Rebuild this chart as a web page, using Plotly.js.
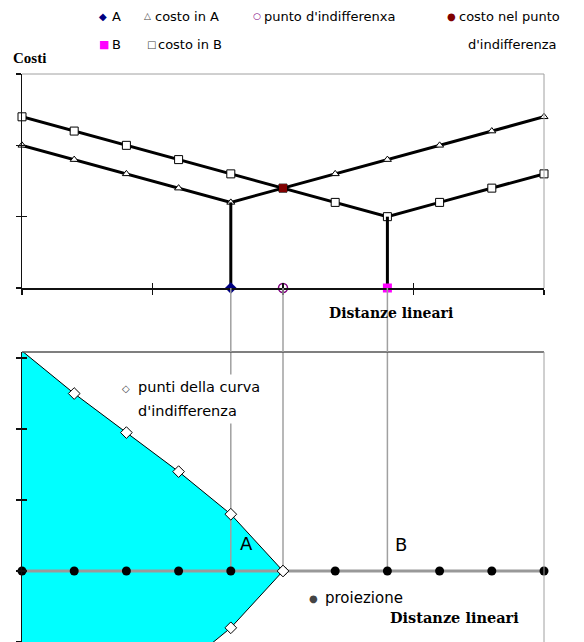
<!DOCTYPE html>
<html>
<head>
<meta charset="utf-8">
<script src="https://cdn.plot.ly/plotly-3.0.1.min.js"></script>
<style>
  html, body { margin: 0; padding: 0; background: #fff; overflow: hidden; }
  #chart { width: 584px; height: 642px; }
</style>
</head>
<body>
<div id="chart"></div>
<script>
// Linear distances along the route (0 = left end, 10 = right end)
const distances = [0, 1, 2, 3, 4, 5, 6, 7, 8, 9, 10];
// Total cost when the facility is located in A or in B
const costInA = [2.0, 1.8, 1.6, 1.4, 1.2, 1.4, 1.6, 1.8, 2.0, 2.2, 2.4];
const costInB = [2.4, 2.2, 2.0, 1.8, 1.6, 1.4, 1.2, 1.0, 1.2, 1.4, 1.6];
// Positions of A, B and the indifference point, and the cost there
const posA = 4;
const posB = 7;
const posIndiff = 5;
const costIndiff = 1.4;
// Points of the indifference curve (upper branch; the lower one is its mirror)
const curveX = [0, 1, 2, 3, 4, 5];
const curveY = [3.1, 2.5, 1.95, 1.4, 0.8, 0];
// Tick positions
const xTicks = [0, 2.5, 5, 7.5, 10];
const yTicksTop = [0, 1, 2, 3];
const yTicksBottom = [-1, 0, 1, 2, 3];

const W = 584, H = 642;
const px = v => v / W;
const py = v => 1 - v / H;

const xDom = [px(22), px(544)];
const topDom = [py(288), py(74)];
const botDom = [0, py(352)];
const topRange = [0, 3];
const botRange = [-1.0, 3.085];

const SANS = 'DejaVu Sans, Arial, sans-serif';
const SERIF = 'Liberation Serif, Times New Roman, serif';
const SERIF_B = 'DejaVu Serif, Liberation Serif, serif';

// Lower branch of the curve, mirrored, to close the filled region
const polyX = curveX.concat(curveX.slice(0, -1).reverse());
const polyY = curveY.concat(curveY.slice(0, -1).reverse().map(v => -v));

const traces = [];

// ---------- upper chart: costs ----------
traces.push({
  x: distances, y: costInA, xaxis: 'x', yaxis: 'y', mode: 'lines+markers',
  line: { color: '#000', width: 3 },
  marker: { symbol: 'triangle-up', size: 7, color: '#fff', line: { color: '#000', width: 1 } },
  cliponaxis: false, hoverinfo: 'skip'
});
traces.push({
  x: distances, y: costInB, xaxis: 'x', yaxis: 'y', mode: 'lines+markers',
  line: { color: '#000', width: 3 },
  marker: { symbol: 'square', size: 8, color: '#fff', line: { color: '#000', width: 1 } },
  cliponaxis: false, hoverinfo: 'skip'
});
// drop lines from the minimum cost down to A and B
traces.push({
  x: [posA, posA], y: [0, costInA[distances.indexOf(posA)]], xaxis: 'x', yaxis: 'y',
  mode: 'lines', line: { color: '#000', width: 3 }, hoverinfo: 'skip'
});
traces.push({
  x: [posB, posB], y: [0, costInB[distances.indexOf(posB)]], xaxis: 'x', yaxis: 'y',
  mode: 'lines', line: { color: '#000', width: 3 }, hoverinfo: 'skip'
});
// A, B, indifference point and its cost
traces.push({
  x: [posA], y: [0], xaxis: 'x', yaxis: 'y', mode: 'markers', cliponaxis: false,
  marker: { symbol: 'diamond', size: 9, color: '#000080' }, hoverinfo: 'skip'
});
traces.push({
  x: [posB], y: [0], xaxis: 'x', yaxis: 'y', mode: 'markers', cliponaxis: false,
  marker: { symbol: 'square', size: 9, color: '#ff00ff' }, hoverinfo: 'skip'
});
traces.push({
  x: [posIndiff], y: [0], xaxis: 'x', yaxis: 'y', mode: 'markers', cliponaxis: false,
  marker: { symbol: 'circle-open', size: 9, color: '#800080', line: { width: 1.5 } }, hoverinfo: 'skip'
});
traces.push({
  x: [posIndiff], y: [costIndiff], xaxis: 'x', yaxis: 'y', mode: 'markers', cliponaxis: false,
  marker: { symbol: 'square', size: 8, color: '#800000' }, hoverinfo: 'skip'
});

// ---------- lower chart: indifference curve ----------
traces.push({
  x: polyX, y: polyY, xaxis: 'x2', yaxis: 'y2', mode: 'lines', fill: 'toself',
  fillcolor: '#00ffff', line: { color: '#000', width: 1 }, hoverinfo: 'skip'
});
// vertical projections of A, the indifference point and B
[posA, posIndiff, posB].forEach(p => {
  traces.push({
    x: [p, p], y: [0, botRange[1]], xaxis: 'x2', yaxis: 'y2', mode: 'lines',
    line: { color: '#a0a0a0', width: 1.5 }, hoverinfo: 'skip'
  });
});
// distance axis drawn over the fill
traces.push({
  x: [distances[0], distances[distances.length - 1]], y: [0, 0], xaxis: 'x2', yaxis: 'y2',
  mode: 'lines', line: { color: '#999', width: 3 }, hoverinfo: 'skip'
});
// projections of the distance points
traces.push({
  x: distances, y: distances.map(() => 0), xaxis: 'x2', yaxis: 'y2', mode: 'markers',
  cliponaxis: false, marker: { symbol: 'circle', size: 9, color: '#000' }, hoverinfo: 'skip'
});
// curve points (both branches)
traces.push({
  x: polyX, y: polyY, xaxis: 'x2', yaxis: 'y2', mode: 'markers', cliponaxis: false,
  marker: { symbol: 'diamond', size: 9, color: '#fff', line: { color: '#000', width: 1 } },
  hoverinfo: 'skip'
});

// empty traces so that the crossing-tick overlay axes are drawn
traces.push({ x: [null], y: [null], xaxis: 'x3', yaxis: 'y', hoverinfo: 'skip' });
traces.push({ x: [null], y: [null], xaxis: 'x', yaxis: 'y3', hoverinfo: 'skip' });
traces.push({ x: [null], y: [null], xaxis: 'x2', yaxis: 'y4', hoverinfo: 'skip' });

const baseAxis = { showgrid: false, zeroline: false, showticklabels: false, fixedrange: true };

const shapes = [
  // upper chart frame (top, right)
  { type: 'line', xref: 'paper', yref: 'paper', x0: xDom[0], x1: xDom[1], y0: topDom[1], y1: topDom[1], line: { color: '#a0a0a0', width: 1 } },
  { type: 'line', xref: 'paper', yref: 'paper', x0: xDom[1], x1: xDom[1], y0: topDom[0], y1: topDom[1], line: { color: '#a0a0a0', width: 1 } },
  // lower chart frame (top, right)
  { type: 'line', xref: 'paper', yref: 'paper', x0: xDom[0], x1: xDom[1], y0: botDom[1], y1: botDom[1], line: { color: '#555', width: 1.5 } },
  { type: 'line', xref: 'paper', yref: 'paper', x0: xDom[1], x1: xDom[1], y0: botDom[0], y1: botDom[1], line: { color: '#a0a0a0', width: 1 } }
];
// projection lines between the two charts
[posA, posIndiff, posB].forEach(p => {
  shapes.push({
    type: 'line', xref: 'x', yref: 'paper', x0: p, x1: p, y0: topDom[0], y1: botDom[1],
    line: { color: '#a0a0a0', width: 1.5 }, layer: 'above'
  });
});

function label(text, x, y, opts) {
  return Object.assign({
    text: text, xref: 'paper', yref: 'paper', x: px(x), y: py(y),
    xanchor: 'left', yanchor: 'middle', showarrow: false,
    font: { family: SANS, size: 13, color: '#000' }
  }, opts || {});
}

const annotations = [
  // legend
  label('<span style="color:#000080">◆</span>', 97, 16, { font: { family: SANS, size: 10 } }),
  label('A', 110, 16),
  label('△', 142, 16, { font: { family: SANS, size: 9 } }),
  label('costo in A', 153, 16),
  label('<span style="color:#800080">○</span>', 251, 16, { font: { family: SANS, size: 9 } }),
  label("punto d'indifferenxa", 262, 16),
  label('<span style="color:#800000">●</span>', 445, 16, { font: { family: SANS, size: 10 } }),
  label('costo nel punto', 457, 16),
  label("d'indifferenza", 466, 45),
  label('<span style="color:#ff00ff">■</span>', 97, 45, { font: { family: SANS, size: 11 } }),
  label('B', 110, 45),
  label('□', 145, 45, { font: { family: SANS, size: 10 } }),
  label('costo in B', 156, 45),
  // axis titles
  label('<b>Costi</b>', 11, 58, { font: { family: SERIF, size: 15, color: '#000' } }),
  label('<b>Distanze lineari</b>', 391, 313, { xanchor: 'center', font: { family: SERIF_B, size: 14, color: '#000' } }),
  label('<b>Distanze lineari</b>', 454, 617, { xanchor: 'center', font: { family: SERIF_B, size: 14.5, color: '#000' } }),
  // lower chart labels
  label('◇', 120, 388, { font: { family: SANS, size: 10 } }),
  label('punti della curva', 133, 387, { bgcolor: '#fff', borderpad: 4, font: { family: SANS, size: 14.5, color: '#000' } }),
  label("d'indifferenza", 133, 411, { bgcolor: '#fff', borderpad: 4, font: { family: SANS, size: 14.5, color: '#000' } }),
  label('A', 246, 543, { xanchor: 'center', font: { family: SANS, size: 18, color: '#000' } }),
  label('B', 401, 544, { xanchor: 'center', font: { family: SANS, size: 18, color: '#000' } }),
  label('●', 307, 598, { font: { family: SANS, size: 10 } }),
  label('proiezione', 323, 598, { font: { family: SANS, size: 15, color: '#000' } })
];

const layout = {
  width: W, height: H,
  margin: { l: 0, r: 0, t: 0, b: 0 },
  paper_bgcolor: '#fff', plot_bgcolor: 'rgba(0,0,0,0)',
  showlegend: false,
  xaxis: Object.assign({}, baseAxis, {
    domain: xDom, range: [0, 10], anchor: 'y', showline: true, linecolor: '#111', linewidth: 1.5,
    tickvals: xTicks, ticks: 'outside', ticklen: 5, tickwidth: 1.2, tickcolor: '#111'
  }),
  xaxis3: Object.assign({}, baseAxis, {
    overlaying: 'x', anchor: 'y', side: 'bottom', range: [0, 10], showline: false,
    tickvals: xTicks, ticks: 'inside', ticklen: 5, tickwidth: 1.2, tickcolor: '#111'
  }),
  yaxis: Object.assign({}, baseAxis, {
    domain: topDom, range: topRange, anchor: 'x', showline: true, linecolor: '#111', linewidth: 1.5,
    tickvals: yTicksTop, ticks: 'outside', ticklen: 5, tickwidth: 1.2, tickcolor: '#111'
  }),
  yaxis3: Object.assign({}, baseAxis, {
    overlaying: 'y', anchor: 'x', side: 'left', range: topRange, showline: false,
    tickvals: yTicksTop, ticks: 'inside', ticklen: 5, tickwidth: 1.2, tickcolor: '#111'
  }),
  xaxis2: Object.assign({}, baseAxis, {
    domain: xDom, range: [0, 10], anchor: 'y2', showline: false, ticks: ''
  }),
  yaxis2: Object.assign({}, baseAxis, {
    domain: botDom, range: botRange, anchor: 'x2', showline: true, linecolor: '#111', linewidth: 1.5,
    tickvals: yTicksBottom, ticks: 'outside', ticklen: 5, tickwidth: 1.2, tickcolor: '#111'
  }),
  yaxis4: Object.assign({}, baseAxis, {
    overlaying: 'y2', anchor: 'x2', side: 'left', range: botRange, showline: false,
    tickvals: yTicksBottom, ticks: 'inside', ticklen: 5, tickwidth: 1.2, tickcolor: '#111'
  }),
  shapes: shapes,
  annotations: annotations
};

Plotly.newPlot('chart', traces, layout, { staticPlot: true, displayModeBar: false });
</script>
</body>
</html>
